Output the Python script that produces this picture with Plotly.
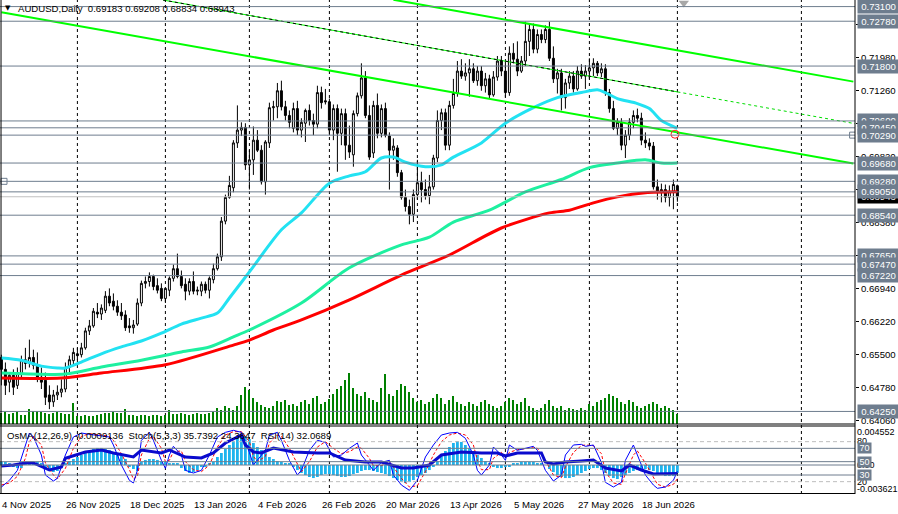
import plotly.graph_objects as go

# ---------------- data ----------------
opens = [0.6543,0.6517,0.6489,0.6504,0.6482,0.6508,0.6538,0.6530,0.6543,0.6526,
         0.6500,0.6493,0.6461,0.6446,0.6461,0.6467,0.6474,0.6521,0.6536,0.6551,
         0.6549,0.6564,0.6601,0.6612,0.6642,0.6638,0.6646,0.6677,0.6666,0.6655,
         0.6642,0.6636,0.6612,0.6608,0.6616,0.6662,0.6705,0.6709,0.6720,0.6700,
         0.6694,0.6672,0.6690,0.6716,0.6737,0.6720,0.6703,0.6688,0.6709,0.6688,
         0.6688,0.6703,0.6690,0.6713,0.6737,0.6763,0.6841,0.6893,0.6914,0.7012,
         0.7040,0.7046,0.6964,0.6975,0.7018,0.6996,0.6927,0.7012,0.7089,0.7091,
         0.7126,0.7091,0.7072,0.7044,0.7087,0.7040,0.7055,0.7083,0.7061,0.7053,
         0.7122,0.7104,0.7102,0.7040,0.7087,0.7033,0.7076,0.7007,0.6986,0.7076,
         0.7115,0.7154,0.7072,0.6990,0.7094,0.7033,0.7087,0.7027,0.6996,0.7001,
         0.6947,0.6893,0.6873,0.6856,0.6899,0.6925,0.6910,0.6897,0.6916,0.6979,
         0.7061,0.7078,0.7007,0.7094,0.7120,0.7169,0.7158,0.7165,0.7174,0.7148,
         0.7169,0.7137,0.7152,0.7117,0.7156,0.7191,0.7169,0.7122,0.7208,0.7195,
         0.7169,0.7191,0.7234,0.7260,0.7217,0.7249,0.7238,0.7260,0.7197,0.7152,
         0.7165,0.7111,0.7143,0.7158,0.7130,0.7169,0.7158,0.7169,0.7176,0.7186,
         0.7165,0.7174,0.7122,0.7087,0.7044,0.7057,0.7007,0.7029,0.7057,0.7072,
         0.7066,0.7018,0.7012,0.7005,0.6916,0.6904,0.6910,0.6893,0.6906,0.69183]
highs = [0.6549,0.6532,0.6510,0.6517,0.6521,0.6547,0.6564,0.6582,0.6560,0.6554,
         0.6521,0.6510,0.6482,0.6472,0.6482,0.6495,0.6532,0.6547,0.6564,0.6564,
         0.6575,0.6608,0.6625,0.6651,0.6662,0.6659,0.6688,0.6694,0.6683,0.6668,
         0.6662,0.6646,0.6629,0.6625,0.6672,0.6711,0.6720,0.6729,0.6724,0.6716,
         0.6705,0.6694,0.6720,0.6746,0.6770,0.6733,0.6716,0.6716,0.6731,0.6698,
         0.6709,0.6709,0.6720,0.6748,0.6770,0.6850,0.6899,0.6940,0.7018,0.7094,
         0.7057,0.7055,0.6996,0.7048,0.7040,0.7007,0.7018,0.7100,0.7104,0.7143,
         0.7148,0.7104,0.7083,0.7100,0.7104,0.7066,0.7087,0.7096,0.7076,0.7137,
         0.7135,0.7130,0.7109,0.7096,0.7096,0.7087,0.7087,0.7050,0.7083,0.7122,
         0.7186,0.7169,0.7094,0.7104,0.7120,0.7096,0.7100,0.7035,0.7022,0.7007,
         0.6953,0.6910,0.6888,0.6910,0.6975,0.6949,0.6932,0.6942,0.6986,0.7083,
         0.7087,0.7087,0.7104,0.7152,0.7191,0.7195,0.7186,0.7195,0.7186,0.7180,
         0.7180,0.7165,0.7161,0.7169,0.7202,0.7202,0.7191,0.7223,0.7230,0.7234,
         0.7202,0.7277,0.7273,0.7273,0.7260,0.7260,0.7269,0.7277,0.7223,0.7174,
         0.7174,0.7152,0.7169,0.7169,0.7180,0.7184,0.7182,0.7197,0.7197,0.7191,
         0.7186,0.7184,0.7130,0.7104,0.7066,0.7066,0.7040,0.7066,0.7083,0.7087,
         0.7078,0.7035,0.7022,0.7014,0.6932,0.6923,0.6921,0.6919,0.6932,0.69208]
lows = [0.6482,0.6461,0.6467,0.6461,0.6474,0.6500,0.6517,0.6521,0.6517,0.6489,
        0.6474,0.6439,0.6430,0.6435,0.6450,0.6456,0.6467,0.6510,0.6528,0.6538,
        0.6543,0.6560,0.6592,0.6608,0.6629,0.6625,0.6640,0.6655,0.6646,0.6634,
        0.6625,0.6601,0.6597,0.6595,0.6612,0.6655,0.6694,0.6698,0.6690,0.6683,
        0.6666,0.6662,0.6677,0.6709,0.6716,0.6694,0.6668,0.6679,0.6681,0.6679,
        0.6677,0.6683,0.6672,0.6705,0.6733,0.6754,0.6834,0.6890,0.6904,0.7001,
        0.7027,0.6953,0.6910,0.6942,0.6992,0.6921,0.6899,0.7001,0.7061,0.7066,
        0.7083,0.7061,0.7044,0.7035,0.7029,0.7024,0.7014,0.7050,0.7029,0.7044,
        0.7087,0.7096,0.7029,0.7018,0.6949,0.7007,0.6975,0.6979,0.6960,0.7070,
        0.7109,0.7066,0.6975,0.6979,0.7022,0.7024,0.7024,0.6910,0.6975,0.6938,
        0.6888,0.6862,0.6834,0.6839,0.6888,0.6882,0.6888,0.6878,0.6910,0.6970,
        0.7040,0.6996,0.6996,0.7087,0.7113,0.7152,0.7148,0.7113,0.7143,0.7137,
        0.7126,0.7122,0.7109,0.7113,0.7148,0.7158,0.7111,0.7115,0.7186,0.7158,
        0.7165,0.7180,0.7202,0.7208,0.7208,0.7230,0.7230,0.7191,0.7143,0.7120,
        0.7083,0.7087,0.7130,0.7122,0.7126,0.7152,0.7130,0.7152,0.7158,0.7158,
        0.7156,0.7115,0.7078,0.7040,0.7029,0.6996,0.6979,0.7018,0.7044,0.7057,
        0.7007,0.7001,0.6996,0.6910,0.6888,0.6882,0.6882,0.6873,0.6867,0.68834]
closes = [0.6517,0.6482,0.6504,0.6478,0.6510,0.6538,0.6530,0.6543,0.6526,0.6500,
          0.6489,0.6456,0.6446,0.6461,0.6467,0.6474,0.6521,0.6538,0.6554,0.6547,
          0.6564,0.6601,0.6612,0.6644,0.6638,0.6651,0.6677,0.6662,0.6655,0.6642,
          0.6634,0.6608,0.6608,0.6614,0.6662,0.6705,0.6709,0.6720,0.6698,0.6690,
          0.6672,0.6694,0.6716,0.6737,0.6720,0.6700,0.6688,0.6709,0.6688,0.6690,
          0.6703,0.6690,0.6716,0.6737,0.6763,0.6841,0.6893,0.6919,0.7012,0.7040,
          0.7046,0.6964,0.6975,0.7018,0.6996,0.6927,0.7014,0.7089,0.7091,0.7126,
          0.7091,0.7072,0.7057,0.7087,0.7040,0.7057,0.7083,0.7061,0.7053,0.7122,
          0.7100,0.7102,0.7040,0.7087,0.7033,0.7076,0.7007,0.6992,0.7076,0.7115,
          0.7154,0.7072,0.6981,0.7094,0.7033,0.7087,0.7029,0.6996,0.7005,0.6947,
          0.6893,0.6873,0.6856,0.6899,0.6925,0.6910,0.6897,0.6916,0.6979,0.7061,
          0.7078,0.7007,0.7094,0.7120,0.7169,0.7158,0.7165,0.7174,0.7148,0.7169,
          0.7137,0.7152,0.7117,0.7156,0.7191,0.7169,0.7122,0.7208,0.7195,0.7169,
          0.7191,0.7234,0.7260,0.7217,0.7249,0.7238,0.7260,0.7197,0.7152,0.7165,
          0.7111,0.7143,0.7158,0.7130,0.7169,0.7158,0.7169,0.7176,0.7186,0.7165,
          0.7174,0.7122,0.7087,0.7044,0.7057,0.7007,0.7029,0.7057,0.7072,0.7066,
          0.7018,0.7012,0.7005,0.6916,0.6904,0.6910,0.6893,0.6906,0.6921,0.68943]
bars = list(range(len(opens)))

# tick volume (thousands)
vol_k = [33,36,30,33,36,27,27,45,39,39,36,33,30,33,36,33,30,30,63,24,
         24,27,24,24,27,30,33,33,36,33,33,45,27,27,24,27,27,24,27,27,
         24,27,42,30,30,33,30,27,30,33,30,30,33,36,48,42,54,48,42,54,
         87,111,102,78,66,57,51,48,54,69,66,72,57,60,54,66,72,60,78,84,
         60,66,75,90,105,114,132,153,108,90,84,96,78,72,66,108,150,90,84,102,
         120,114,96,78,66,72,60,66,78,90,78,60,72,84,66,60,54,66,60,54,
         66,72,60,54,48,54,66,78,72,60,66,78,54,48,42,48,60,72,54,48,
         54,42,48,45,42,48,42,60,54,66,72,78,90,84,78,66,60,72,66,54,
         48,54,60,66,60,48,54,48,42,30]

# moving averages (sampled)
ma_fast_x = [0,5,10,14,16,20,25,30,35,40,45,50,54,57,62,70,75,82,87,91,
             95,98,101,106,110,113,120,126,133,139,145,149,151,154,159,162,165,169]
ma_fast = [0.6542,0.6537,0.6524,0.6520,0.6520,0.6533,0.6551,0.6566,0.6579,0.6596,
           0.6616,0.6629,0.6640,0.6673,0.6730,0.6822,0.6859,0.6924,0.6940,0.6949,
           0.6979,0.6981,0.6970,0.6960,0.6964,0.6981,0.7012,0.7055,0.7089,0.7111,
           0.7122,0.7128,0.7122,0.7109,0.7098,0.7087,0.7061,0.7044]
ma_mid_x = [0,16,25,35,45,52,58,62,75,87,100,107,113,122,131,140,147,154,161,165,169]
ma_mid = [0.6509,0.6507,0.6522,0.6537,0.6555,0.6566,0.6588,0.6603,0.6662,0.6739,
          0.6789,0.6806,0.6839,0.6865,0.6905,0.6932,0.6958,0.6968,0.6975,0.6968,0.6968]
ma_slow_x = [0,15,25,41,58,62,68,75,87,100,112,125,137,142,148,154,161,169]
ma_slow = [0.6498,0.6498,0.6509,0.6527,0.6570,0.6581,0.6603,0.6625,0.6669,0.6723,
           0.6767,0.6826,0.6859,0.6865,0.6881,0.6894,0.6903,0.6905]

# horizontal levels, bid, price scale ticks
levels = [0.7310,0.7278,0.7180,0.7060,0.7045,0.7029,0.6968,0.6928,0.6905,
          0.6854,0.6765,0.6747,0.6722,0.6425]
bid = 0.68943
price_ticks = [0.7270,0.7198,0.7126,0.7054,0.6982,0.6910,0.6838,0.6766,
               0.6694,0.6622,0.6550,0.6478,0.6406]
price_ticks_hidden = [0.7054, 0.6910, 0.6766]   # fully covered by level labels

# time scale
date_bars = [0,16,32,48,64,80,96,112,128,144,160]
date_labels = ["4 Nov 2025","26 Nov 2025","18 Dec 2025","13 Jan 2026","4 Feb 2026",
               "26 Feb 2026","20 Mar 2026","13 Apr 2026","5 May 2026","27 May 2026",
               "18 Jun 2026"]
month_sep = [19,41,62,82,104,126,147,169,200]

# trend lines (bar index, price)
trend_a = ([0, 213], [0.72976, 0.69668])
trend_b = ([98, 213], [0.73250, 0.71460])
trend_c = ([40.4, 169], [0.73244, 0.71235])
trend_c_ext = ([169, 213.4], [0.71235, 0.70541])

# indicators
osma = [0.00035,0.00035,0.00023,-0.00023,-0.00035,-0.00035,0.00023,0.00035,0.00035,0.00035,
        0.00023,-0.00035,-0.00058,-0.00081,-0.00069,-0.00035,0.00023,0.00046,0.00069,0.00092,
        0.00115,0.00138,0.00161,0.00184,0.00196,0.00196,0.00184,0.00173,0.0015,0.00127,
        0.00104,0.00069,-0.00023,-0.00046,-0.00069,0.00035,0.00058,0.00069,0.00069,0.00058,
        0.00046,0.00035,0.00023,0.00012,0.00012,-0.00035,-0.00069,-0.00092,-0.00081,-0.00058,
        -0.00023,-0.00012,0.00012,0.00035,0.00092,0.00138,0.00184,0.0023,0.00276,0.00311,
        0.00345,0.00334,0.00299,0.00253,0.00207,0.00173,0.00138,0.00092,0.00069,0.00046,
        0.00035,0.00023,0.00012,-0.00012,-0.00058,-0.00092,-0.00115,-0.00138,-0.0015,-0.00138,
        -0.00115,-0.00104,-0.00104,-0.00115,-0.00127,-0.00138,-0.00138,-0.00127,-0.00104,-0.00092,
        -0.00069,-0.00058,-0.00058,-0.00069,-0.00081,-0.00092,-0.00104,-0.00127,-0.0015,-0.00173,
        -0.00196,-0.00207,-0.00196,-0.00173,-0.00138,-0.00115,-0.00092,-0.00058,-0.00012,0.00046,
        0.00104,0.00161,0.00207,0.00253,0.00276,0.00265,0.0023,0.00196,0.00161,0.00115,
        0.00081,0.00046,0.00012,-0.00023,-0.00035,-0.00035,-0.00023,-0.00023,0.00012,0.00023,
        0.00035,0.00035,0.00035,0.00035,0.00023,0.00012,0.0,-0.00046,-0.00081,-0.00115,
        -0.00138,-0.0015,-0.0015,-0.00138,-0.00115,-0.00092,-0.00069,-0.00046,-0.00035,-0.00035,
        -0.00058,-0.00092,-0.00127,-0.0015,-0.00161,-0.00138,-0.00115,-0.00092,-0.00069,-0.00058,
        -0.00046,-0.00046,-0.00058,-0.00069,-0.00092,-0.00115,-0.00127,-0.00127,-0.00127,-0.00091]
stoch_x = [0,2,4,6,7,8,10,11,13,14,16,18,20,22,25,27,28,30,32,33,
           34,35,37,38,40,41,42,43,45,46,48,50,52,54,56,58,60,62,63,64,
           66,67,69,70,72,74,75,77,79,81,83,85,87,89,90,92,93,95,97,98,
           100,102,104,106,108,110,112,114,116,118,119,120,122,123,125,126,127,129,131,133,
           134,136,138,140,141,143,145,146,148,150,151,153,155,156,158,159,161,163,164,166,
           168,169]
stoch_k = [12,22,37,75,93,87,60,30,21,25,60,87,93,91,88,87,75,45,22,18,
           37,82,94,82,52,40,60,73,60,37,33,37,60,87,94,97,94,64,45,52,
           67,90,94,82,52,30,37,67,82,79,57,60,70,78,60,45,37,49,52,30,
           15,7,22,57,75,90,93,94,85,60,37,30,45,72,60,52,75,67,70,73,
           67,37,21,30,60,75,76,73,75,49,19,12,19,52,75,60,30,15,10,12,
           22,35.74]
stoch_d = [15,18,28,55,80,88,75,48,30,24,40,70,88,92,90,88,82,62,38,24,
           28,60,85,88,70,50,52,65,66,50,38,35,45,72,90,95,95,80,58,50,
           58,78,90,88,70,45,35,50,72,80,70,62,65,72,70,55,44,44,50,42,
           25,12,14,35,60,80,90,93,90,75,52,38,38,55,64,58,64,68,69,71,
           70,52,30,26,42,64,74,75,74,62,35,18,16,32,60,66,48,28,16,12,
           16,24.38]
rsi_x = [0,3,6,8,12,15,16,21,25,28,33,35,40,42,46,50,53,56,60,61,
         63,65,68,73,79,82,86,91,95,100,103,107,110,115,120,124,126,129,135,136,
         138,141,145,148,151,155,157,160,163,166,169]
rsi = [43.5,45,48,48,37.5,42,55,64.5,67.5,63,57,67.5,63,67.5,57,55.5,63,78,90,75,
       64.5,63,70.5,64.5,63,63,52.5,49.5,49.5,40.5,40.5,45,60,64.5,63,63,58.5,63,63,49.5,
       46.5,49.5,51,52.5,40.5,36,45,37.5,31.5,31.5,32.07]
stoch_levels_dashed = [80, 20]
ind_levels = [70, 50, 30]

# ---------------- layout geometry ----------------
W, H = 898, 514
MR, MB = 43, 20
PW, PH = W - MR, H - MB          # 855 x 494 plotting paper
MAIN_BOT = 424
IND_TOP = 425
PRICE_TOP = 0.73244
PRICE_PER_PX = 0.0002186
price_range = [PRICE_TOP - PRICE_PER_PX * MAIN_BOT, PRICE_TOP]

def py(px):
    return (PH - px) / PH

def px_x(px):
    return px / PW

LEVEL = "#6E7D8E"
FONT = "Liberation Sans"
FS = 9.6

fig = go.Figure()

fig.add_trace(go.Bar(x=bars, y=vol_k, yaxis="y2", width=0.3,
                     marker=dict(color="#008000", line=dict(width=0)),
                     hoverinfo="skip", showlegend=False))
fig.add_trace(go.Candlestick(x=bars, open=opens, high=highs, low=lows, close=closes,
                             increasing=dict(line=dict(color="black", width=1), fillcolor="white"),
                             decreasing=dict(line=dict(color="black", width=1), fillcolor="black"),
                             whiskerwidth=0, hoverinfo="skip", showlegend=False))
for xs, ys, col in [(ma_slow_x, ma_slow, "#FF0000"), (ma_mid_x, ma_mid, "#1EF0A0"),
                    (ma_fast_x, ma_fast, "#22E2F2")]:
    fig.add_trace(go.Scatter(x=xs, y=ys, mode="lines",
                             line=dict(color=col, width=3, shape="spline", smoothing=0.8),
                             hoverinfo="skip", showlegend=False))

# trend lines
fig.add_trace(go.Scatter(x=trend_a[0], y=trend_a[1], mode="lines",
                         line=dict(color="#00FF00", width=2), hoverinfo="skip", showlegend=False))
fig.add_trace(go.Scatter(x=trend_b[0], y=trend_b[1], mode="lines",
                         line=dict(color="#00FF00", width=2), hoverinfo="skip", showlegend=False))
fig.add_trace(go.Scatter(x=trend_c[0], y=trend_c[1], mode="lines",
                         line=dict(color="#00FF00", width=1), hoverinfo="skip", showlegend=False))
fig.add_trace(go.Scatter(x=trend_c[0], y=trend_c[1], mode="lines",
                         line=dict(color="black", width=1, dash="3px,3px"), hoverinfo="skip", showlegend=False))
fig.add_trace(go.Scatter(x=trend_c_ext[0], y=trend_c_ext[1], mode="lines",
                         line=dict(color="#00DD00", width=1, dash="3px,3px"), hoverinfo="skip", showlegend=False))

# markers
fig.add_trace(go.Scatter(x=[0.65, 212.8], y=[0.6928, 0.7029], mode="markers",
                         marker=dict(symbol="square-open", size=6, color=LEVEL, line=dict(width=1)),
                         hoverinfo="skip", showlegend=False))
fig.add_trace(go.Scatter(x=[168.4], y=[0.7031], mode="markers",
                         marker=dict(symbol="circle-open", size=8, color="#FF2020", line=dict(width=1)),
                         hoverinfo="skip", showlegend=False))
fig.add_trace(go.Scatter(x=[170.6], y=[0.7318], mode="markers",
                         marker=dict(symbol="triangle-down", size=9, color="#A8A8A8"),
                         hoverinfo="skip", showlegend=False))

# indicator window
fig.add_trace(go.Bar(x=bars, y=osma, yaxis="y3", width=0.7,
                     marker=dict(color="#1EB4EE", line=dict(width=0)),
                     hoverinfo="skip", showlegend=False))
fig.add_trace(go.Scatter(x=stoch_x, y=stoch_d, yaxis="y4", mode="lines",
                         line=dict(color="#FF0000", width=1, dash="3px,2px"),
                         hoverinfo="skip", showlegend=False))
fig.add_trace(go.Scatter(x=stoch_x, y=stoch_k, yaxis="y4", mode="lines",
                         line=dict(color="#0000FF", width=1), hoverinfo="skip", showlegend=False))
fig.add_trace(go.Scatter(x=rsi_x, y=rsi, yaxis="y4", mode="lines",
                         line=dict(color="#0A0ACD", width=3), hoverinfo="skip", showlegend=False))

shapes = []
for b in month_sep:
    shapes.append(dict(type="line", xref="x", yref="paper", x0=b, x1=b, y0=0, y1=1,
                       line=dict(color="black", width=1, dash="3px,3px"), layer="below"))
for lv in levels:
    shapes.append(dict(type="line", xref="paper", yref="y", x0=0, x1=1, y0=lv, y1=lv,
                       line=dict(color=LEVEL, width=1)))
shapes.append(dict(type="line", xref="paper", yref="y", x0=0, x1=1, y0=bid, y1=bid,
                   line=dict(color="#C0C0C0", width=1)))
for lv in stoch_levels_dashed:
    shapes.append(dict(type="line", xref="paper", yref="y4", x0=0, x1=1, y0=lv, y1=lv,
                       line=dict(color="#BDBDBD", width=1, dash="4px,3px")))
for lv in ind_levels:
    shapes.append(dict(type="line", xref="paper", yref="y4", x0=0, x1=1, y0=lv, y1=lv,
                       line=dict(color=LEVEL, width=1)))
shapes.append(dict(type="line", xref="paper", yref="y3", x0=0, x1=1, y0=0, y1=0,
                   line=dict(color=LEVEL, width=1)))
# window borders
shapes.append(dict(type="line", xref="paper", yref="paper", x0=0.0012, x1=0.0012, y0=0, y1=1,
                   line=dict(color="black", width=1)))
shapes.append(dict(type="line", xref="paper", yref="paper", x0=1, x1=1, y0=0, y1=1,
                   line=dict(color="black", width=1)))
shapes.append(dict(type="line", xref="paper", yref="paper", x0=0, x1=1, y0=py(424), y1=py(424),
                   line=dict(color="black", width=1)))
shapes.append(dict(type="line", xref="paper", yref="paper", x0=0, x1=1, y0=py(426), y1=py(426),
                   line=dict(color="black", width=1)))
shapes.append(dict(type="line", xref="paper", yref="paper", x0=0, x1=1, y0=py(493.5), y1=py(493.5),
                   line=dict(color="black", width=1)))

ann = []
# title
ann.append(dict(x=px_x(3), y=py(8), xref="paper", yref="paper", xanchor="left", yanchor="middle",
                text="▼", showarrow=False, font=dict(family="DejaVu Sans", size=7, color="black")))
ann.append(dict(x=px_x(16), y=py(8), xref="paper", yref="paper", xanchor="left", yanchor="middle",
                text="AUDUSD,Daily\u00a0\u00a00.69183 0.69208 0.68834 0.68943", showarrow=False,
                font=dict(family=FONT, size=FS, color="black")))
# price scale labels (those completely hidden behind level labels are not written)
for t in price_ticks:
    if t in price_ticks_hidden:
        continue
    ann.append(dict(x=1, xref="paper", xanchor="left", xshift=4, y=t, yref="y", yanchor="middle",
                    text=f"{t:.5f}", showarrow=False, font=dict(family=FONT, size=FS, color="black")))
# bid label then level labels
ann.append(dict(x=1, xref="paper", xanchor="left", xshift=2, y=bid, yref="y", yanchor="middle",
                text=f"{bid:.5f}", showarrow=False, bgcolor="black", width=39, height=11, borderpad=1,
                font=dict(family=FONT, size=FS, color="white")))
for lv in levels:
    ann.append(dict(x=1, xref="paper", xanchor="left", xshift=2, y=lv, yref="y", yanchor="middle",
                    text=f"{lv:.5f}", showarrow=False, bgcolor=LEVEL, width=39, height=11, borderpad=1,
                    font=dict(family=FONT, size=FS, color="white")))
# dates
for b, lab in zip(date_bars, date_labels):
    ann.append(dict(x=b, xref="x", xanchor="left", xshift=-1, y=py(505), yref="paper", yanchor="middle",
                    text=lab, showarrow=False, font=dict(family=FONT, size=FS, color="black")))
# indicator window texts
ann.append(dict(x=px_x(5), y=py(435), xref="paper", yref="paper", xanchor="left", yanchor="middle",
                text="OsMA(12,26,9) -0.0009136\u00a0\u00a0Stoch(5,3,3) 35.7392 24.3847\u00a0\u00a0RSI(14) 32.0689",
                showarrow=False, font=dict(family=FONT, size=FS, color="black")))
for txt, row in [("0.004552", 432), ("80", 441), ("0.00", 465), ("20", 481.5), ("-0.003621", 488.5)]:
    ann.append(dict(x=1, xref="paper", xanchor="left", xshift=0, y=py(row), yref="paper", yanchor="middle",
                    text=txt, showarrow=False, font=dict(family=FONT, size=9, color="black")))
for lv in ind_levels:
    ann.append(dict(x=1, xref="paper", xanchor="left", xshift=2, y=lv, yref="y4", yanchor="middle",
                    text=str(lv), showarrow=False, bgcolor=LEVEL, width=11, height=8, borderpad=1,
                    font=dict(family=FONT, size=9, color="white")))

main_dom = [py(MAIN_BOT), 1]
ind_dom = [0, py(IND_TOP)]
osma_range = [-(494 - 465) * 0.000115, (465 - IND_TOP) * 0.000115]
stoch_range = [(495 - 494) / 0.6667, (495 - IND_TOP) / 0.6667]

fig.update_layout(
    width=W, height=H, autosize=False,
    margin=dict(l=0, r=MR, t=0, b=MB, pad=0),
    paper_bgcolor="white", plot_bgcolor="white",
    showlegend=False, hovermode=False, barmode="overlay",
    xaxis=dict(range=[-0.35, (PW - 1.4) / 4], showticklabels=False, showgrid=False,
               zeroline=False, showline=False, ticks="", rangeslider=dict(visible=False),
               fixedrange=True),
    yaxis=dict(domain=main_dom, range=price_range, side="right", showgrid=False, zeroline=False,
               showline=False, ticks="outside", ticklen=3, tickcolor="black", tickvals=price_ticks,
               showticklabels=False, fixedrange=True),
    yaxis2=dict(overlaying="y", range=[0, 1272], visible=False, fixedrange=True),
    yaxis3=dict(domain=ind_dom, anchor="x", range=osma_range, visible=False, fixedrange=True),
    yaxis4=dict(overlaying="y3", range=stoch_range, visible=False, fixedrange=True),
    shapes=shapes, annotations=ann,
)

fig.write_html("out.html")
